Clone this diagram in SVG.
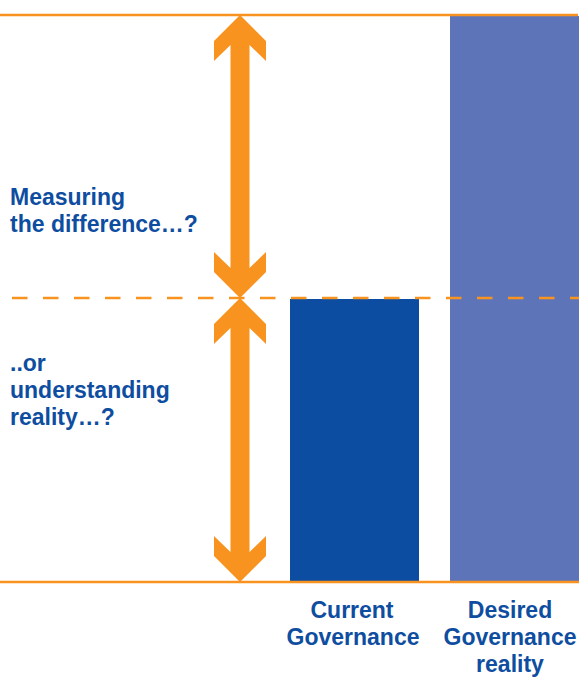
<svg xmlns="http://www.w3.org/2000/svg" width="579" height="677" viewBox="0 0 579 677">
<style>
.lbl{font-family:"Liberation Sans",Arial,sans-serif;font-weight:bold;font-size:23px;fill:#0E4DA0}
.ctr{text-anchor:middle}
.arrow{fill:#F7931E}
.rule{stroke:#F7931E;stroke-width:2.5;fill:none}
</style>
<rect width="579" height="677" fill="#fff"/>
<g id="desired-bar"><rect x="450" y="16" width="129" height="566" fill="#5E74B8"/></g>
<g id="current-bar"><rect x="290" y="299" width="129" height="283" fill="#0D4DA1"/></g>
<g id="connectors">
<line class="rule" x1="0" y1="15" x2="578" y2="15"/>
<line class="rule" x1="0" y1="582" x2="579" y2="582"/>
<line class="rule" x1="12" y1="298" x2="579" y2="298" stroke-dasharray="15.5 15.5"/>
<path id="arrow-upper" class="arrow" d="M240,15 L266,41 L266,61 L249.5,45 L249.5,268 L266,252 L266,272 L240,298 L214,272 L214,252 L230.5,268 L230.5,45 L214,61 L214,41 Z"/>
<path id="arrow-lower" class="arrow" d="M240,298 L266,324 L266,344 L249.5,328 L249.5,552 L266,536 L266,556 L240,582 L214,556 L214,536 L230.5,552 L230.5,328 L214,344 L214,324 Z"/>
</g>
<g id="label-measuring">
<text class="lbl" x="10" y="205">Measuring</text>
<text class="lbl" x="10" y="232">the difference…?</text>
</g>
<g id="label-understanding">
<text class="lbl" x="10" y="371">..or</text>
<text class="lbl" x="10" y="398">understanding</text>
<text class="lbl" x="10" y="425">reality…?</text>
</g>
<g id="label-current">
<text class="lbl ctr" x="352" y="618">Current</text>
<text class="lbl ctr" x="353" y="645">Governance</text>
</g>
<g id="label-desired">
<text class="lbl ctr" x="510" y="618">Desired</text>
<text class="lbl ctr" x="510" y="645">Governance</text>
<text class="lbl ctr" x="510" y="672">reality</text>
</g>
</svg>
